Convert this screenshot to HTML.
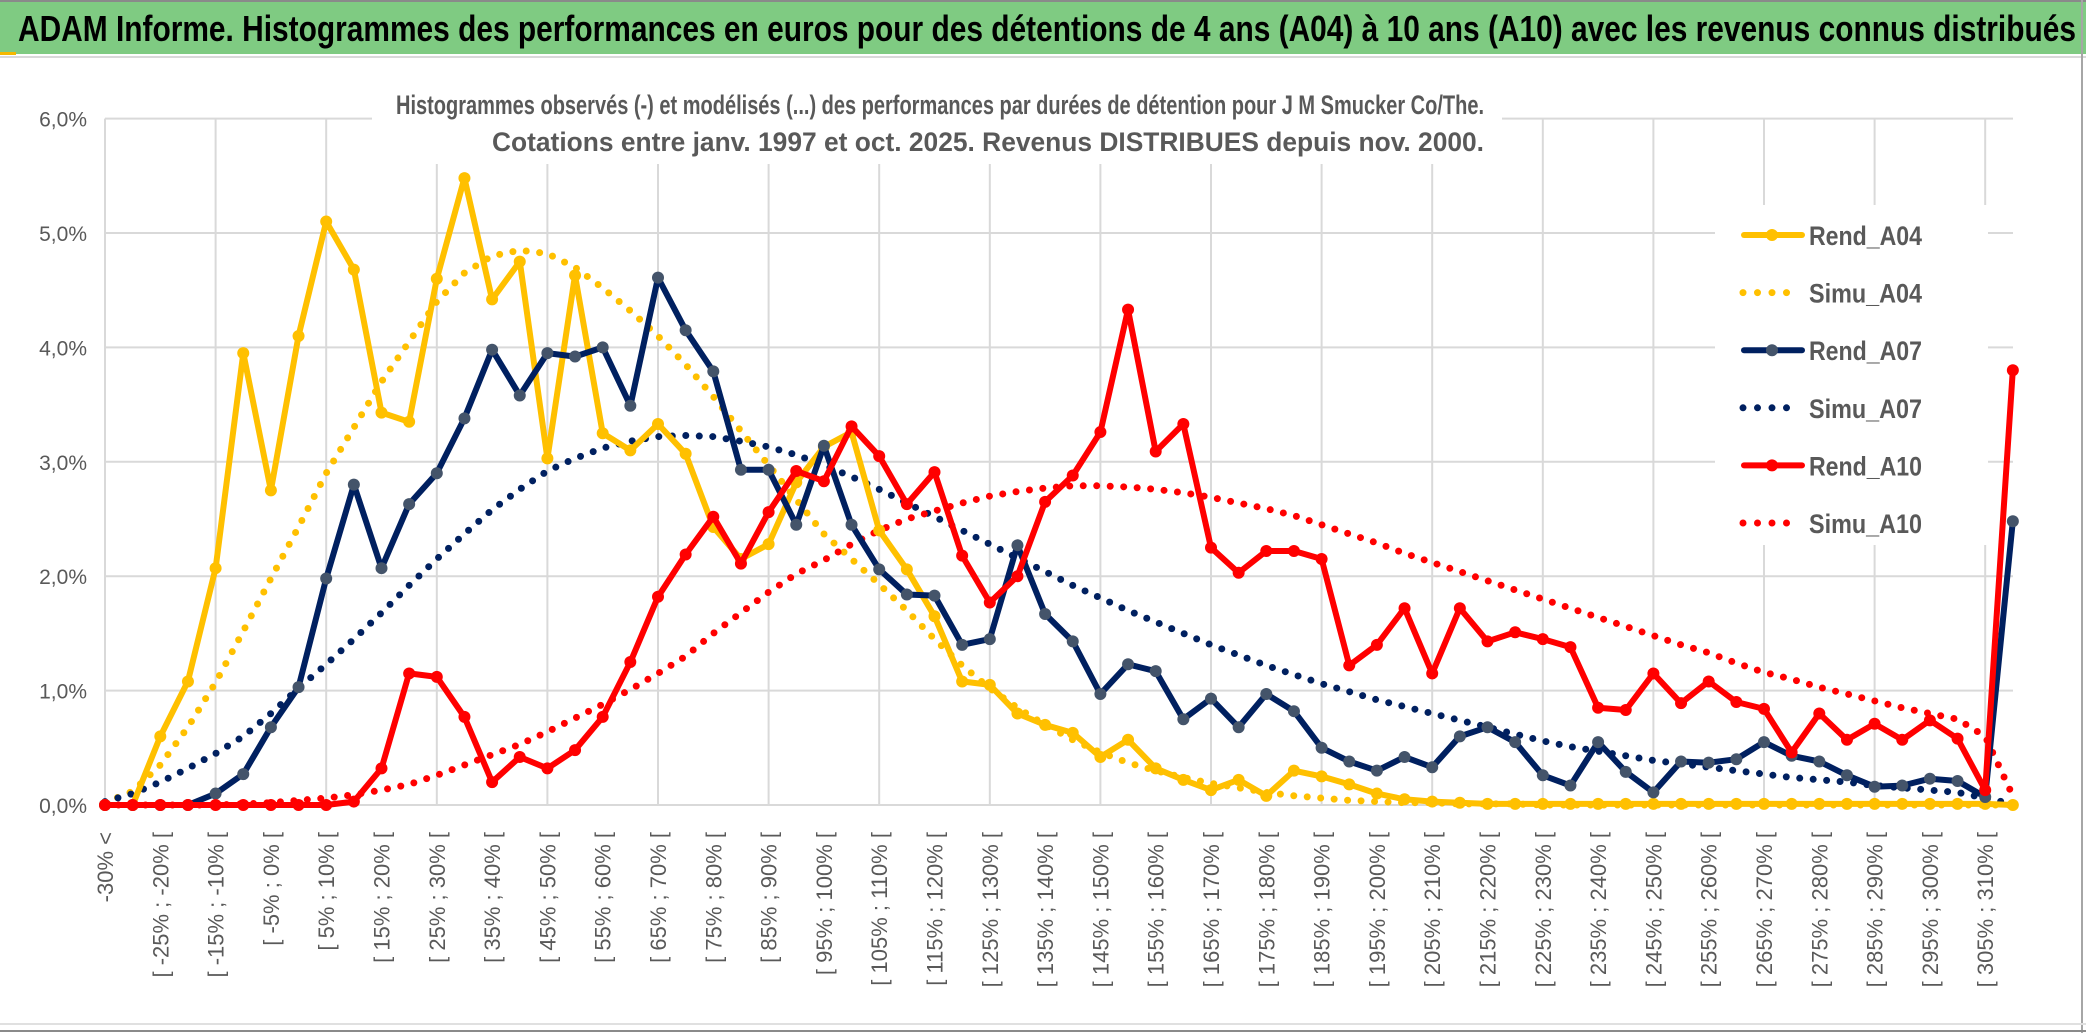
<!DOCTYPE html>
<html><head><meta charset="utf-8">
<style>
html,body{margin:0;padding:0;background:#fff;}
svg{display:block;font-family:"Liberation Sans",sans-serif;}
</style></head>
<body>
<svg id="chart" width="2086" height="1033" viewBox="0 0 2086 1033" xmlns="http://www.w3.org/2000/svg">
<rect x="0" y="0" width="2086" height="1033" fill="#fff"/>
<rect x="0" y="2" width="2086" height="52" fill="#7fcb82"/>
<line x1="0" y1="1" x2="2086" y2="1" stroke="#8a8a8a" stroke-width="2"/>
<rect x="0" y="52" width="16" height="3" fill="#f5b800"/>
<line x1="0" y1="57" x2="2086" y2="57" stroke="#d9d9d9" stroke-width="2"/>
<text x="18" y="41" font-size="36" font-weight="bold" fill="#000" textLength="2058" lengthAdjust="spacingAndGlyphs">ADAM Informe. Histogrammes des performances en euros pour des détentions de 4 ans (A04) à 10 ans (A10) avec les revenus connus distribués</text>
<g id="grid"></g>
<g id="yaxis"></g>
<g id="xaxis"></g>
<rect x="372" y="60" width="1130" height="104" fill="#fff"/>
<text x="396" y="114" font-size="27" font-weight="bold" fill="#595959" textLength="1088" lengthAdjust="spacingAndGlyphs">Histogrammes observés (-) et modélisés (...) des performances par durées de détention pour J M Smucker Co/The.</text>
<text x="492" y="151" font-size="27" font-weight="bold" fill="#595959" textLength="992" lengthAdjust="spacingAndGlyphs">Cotations entre janv. 1997 et oct. 2025. Revenus DISTRIBUES depuis nov. 2000.</text>
<g id="series"></g>
<g id="legend"></g>
<line x1="2082" y1="0" x2="2082" y2="1033" stroke="#a6a6a6" stroke-width="2"/>
<line x1="0" y1="1024" x2="2086" y2="1024" stroke="#e0e0e0" stroke-width="2"/>
<line x1="0" y1="1031" x2="2086" y2="1031" stroke="#8a8a8a" stroke-width="2"/>
</svg>
<script>
const rendA04 = [0,0,0.6,1.08,2.07,3.95,2.75,4.1,5.1,4.68,3.43,3.35,4.6,5.48,4.42,4.75,3.03,4.63,3.25,3.1,3.33,3.07,2.43,2.15,2.28,2.82,3.13,3.26,2.4,2.06,1.65,1.08,1.05,0.8,0.7,0.63,0.42,0.57,0.32,0.22,0.13,0.22,0.08,0.3,0.25,0.18,0.1,0.05,0.03,0.02,0.01,0.01,0.01,0.01,0.01,0.01,0.01,0.01,0.01,0.01,0.01,0.01,0.01,0.01,0.01,0.01,0.01,0.01,0.01,0];
const simuA04 = [0.02,0.12,0.35,0.68,1.07,1.52,1.98,2.43,2.9,3.3,3.7,4.05,4.4,4.65,4.8,4.85,4.82,4.7,4.52,4.32,4.1,3.85,3.57,3.27,2.97,2.67,2.37,2.15,1.93,1.7,1.45,1.22,1.02,0.85,0.7,0.57,0.46,0.37,0.3,0.24,0.19,0.15,0.11,0.08,0.06,0.04,0.03,0.02,0.02,0.01,0.01,0.01,0,0,0,0,0,0,0,0,0,0,0,0,0,0,0,0,0,0];
const rendA07 = [0,0,0,0,0.1,0.27,0.68,1.03,1.98,2.8,2.07,2.63,2.9,3.38,3.98,3.58,3.95,3.92,4.0,3.49,4.61,4.15,3.79,2.93,2.93,2.45,3.14,2.45,2.06,1.84,1.83,1.4,1.45,2.27,1.67,1.43,0.97,1.23,1.17,0.75,0.93,0.68,0.97,0.82,0.5,0.38,0.3,0.42,0.33,0.6,0.68,0.55,0.26,0.17,0.55,0.29,0.11,0.38,0.37,0.4,0.55,0.43,0.38,0.26,0.16,0.17,0.23,0.21,0.07,2.48];
const simuA07 = [0.03,0.1,0.2,0.32,0.45,0.6,0.8,1.02,1.23,1.45,1.68,1.92,2.15,2.37,2.58,2.76,2.92,3.03,3.12,3.18,3.22,3.23,3.22,3.18,3.13,3.06,2.97,2.87,2.76,2.64,2.52,2.4,2.28,2.16,2.04,1.92,1.81,1.7,1.6,1.5,1.4,1.31,1.22,1.14,1.06,0.99,0.92,0.86,0.8,0.74,0.68,0.62,0.56,0.51,0.47,0.43,0.39,0.36,0.33,0.3,0.27,0.24,0.22,0.2,0.17,0.15,0.13,0.11,0.06,0.01];
const rendA10 = [0,0,0,0,0,0,0,0,0,0.03,0.32,1.15,1.12,0.77,0.2,0.42,0.32,0.48,0.77,1.25,1.82,2.19,2.52,2.11,2.56,2.92,2.83,3.31,3.05,2.63,2.91,2.18,1.77,2.0,2.65,2.88,3.26,4.33,3.09,3.33,2.25,2.03,2.22,2.22,2.15,1.22,1.4,1.72,1.15,1.72,1.43,1.51,1.45,1.38,0.85,0.83,1.15,0.89,1.08,0.9,0.84,0.46,0.8,0.57,0.71,0.57,0.74,0.58,0.13,3.8];
const simuA10 = [0,0,0,0,0,0.01,0.02,0.04,0.06,0.09,0.13,0.18,0.26,0.35,0.44,0.53,0.64,0.76,0.88,1.01,1.15,1.3,1.5,1.68,1.86,2.02,2.14,2.28,2.4,2.5,2.57,2.64,2.7,2.74,2.77,2.79,2.79,2.78,2.76,2.73,2.69,2.64,2.59,2.53,2.45,2.37,2.29,2.2,2.12,2.04,1.96,1.88,1.8,1.72,1.64,1.56,1.48,1.4,1.33,1.24,1.16,1.1,1.03,0.97,0.91,0.85,0.8,0.75,0.6,0.08];
const yTicks = [0,1,2,3,4,5,6];
const yTickLabels = ["0,0%","1,0%","2,0%","3,0%","4,0%","5,0%","6,0%"];
const binStart = -30, binStep = 5, nCats = 70;

const NS = "http://www.w3.org/2000/svg";
const X0 = 105, DX = 27.65, Y0 = 805, DY = 114.4, XR = 2013;
function xPos(i){ return X0 + DX * i; }
function yPos(v){ return Y0 - DY * v; }
function mk(tag, attrs, parent){
  const e = document.createElementNS(NS, tag);
  for (const k in attrs) e.setAttribute(k, attrs[k]);
  parent.appendChild(e);
  return e;
}
function catLabel(i){
  if (i === 0) return "-30% <";
  if (i === nCats - 1) return "> 310%";
  const lo = binStart + binStep * (i - 1);
  return "[ " + lo + "% ; " + (lo + binStep) + "% [";
}
const grid = document.getElementById('grid');
yTicks.forEach((t) => {
  const l = mk('line', {x1: X0, x2: XR, y1: yPos(t), y2: yPos(t), stroke: '#d9d9d9', 'stroke-width': 2}, grid);
  
  
});
for (let i = 0; i < nCats; i += 4) {
  const l = mk('line', {x1: xPos(i), x2: xPos(i), y1: yPos(yTicks[yTicks.length-1]), y2: Y0, stroke: '#d9d9d9', 'stroke-width': 2}, grid);
  
  
}
const yaxis = document.getElementById('yaxis');
yTicks.forEach((t, k) => {
  const tx = mk('text', {x: 87, y: yPos(t) + 8, 'text-anchor': 'end', 'font-size': 21, fill: '#595959'}, yaxis);
  tx.textContent = yTickLabels[k];
  
  
});
const xaxis = document.getElementById('xaxis');
for (let i = 0; i < nCats - 1; i += 2) {
  const x = xPos(i) + 8;
  const tx = mk('text', {x: x, y: 832, transform: 'rotate(-90 ' + x + ' 832)', 'text-anchor': 'end', 'font-size': 22, fill: '#595959'}, xaxis);
  tx.textContent = catLabel(i);
  
  
}
const series = document.getElementById('series');
function ptsOf(vals){ return vals.map((v, i) => xPos(i).toFixed(1) + ',' + yPos(v).toFixed(1)).join(' '); }
function dotted(vals, color, name){
  const p = mk('polyline', {points: ptsOf(vals), fill: 'none', stroke: color, 'stroke-width': 7, 'stroke-linecap': 'round', 'stroke-dasharray': '0 13.5'}, series);
  
  
}
function solid(vals, color, mfill, name){
  const g = mk('g', {}, series);
  
  
  const p = mk('polyline', {points: ptsOf(vals), fill: 'none', stroke: color, 'stroke-width': 6, 'stroke-linejoin': 'round'}, g);
  
  
  vals.forEach((v, i) => {
    const c = mk('circle', {cx: xPos(i), cy: yPos(v), r: 6, fill: mfill}, g);
    
    
  });
}
dotted(simuA04, '#ffc000', 'simu-a04-line');
dotted(simuA07, '#002060', 'simu-a07-line');
dotted(simuA10, '#ff0000', 'simu-a10-line');
solid(rendA04, '#ffc000', '#ffc000', 'rend-a04');
solid(rendA07, '#002060', '#44546a', 'rend-a07');
solid(rendA10, '#ff0000', '#ff0000', 'rend-a10');

const legend = document.getElementById('legend');
const bg = mk('rect', {x: 1715, y: 205, width: 273, height: 340, fill: '#fff'}, legend);


const legItems = [
  ['Rend_A04', '#ffc000', '#ffc000', false],
  ['Simu_A04', '#ffc000', null, true],
  ['Rend_A07', '#002060', '#44546a', false],
  ['Simu_A07', '#002060', null, true],
  ['Rend_A10', '#ff0000', '#ff0000', false],
  ['Simu_A10', '#ff0000', null, true]
];
legItems.forEach((it, k) => {
  const y = 235 + k * 57.6;
  const g = mk('g', {}, legend);
  
  
  if (it[3]) {
    mk('line', {x1: 1743, x2: 1800, y1: y, y2: y, stroke: it[1], 'stroke-width': 7, 'stroke-linecap': 'round', 'stroke-dasharray': '0 14.5'}, g);
  } else {
    mk('line', {x1: 1744, x2: 1802, y1: y, y2: y, stroke: it[1], 'stroke-width': 6, 'stroke-linecap': 'round'}, g);
    mk('circle', {cx: 1772, cy: y, r: 6, fill: it[2]}, g);
  }
  const t = mk('text', {x: 1809, y: y + 10, 'font-size': 27, 'font-weight': 'bold', fill: '#595959', textLength: 113, lengthAdjust: 'spacingAndGlyphs'}, g);
  t.textContent = it[0];
});
</script>
</body></html>
